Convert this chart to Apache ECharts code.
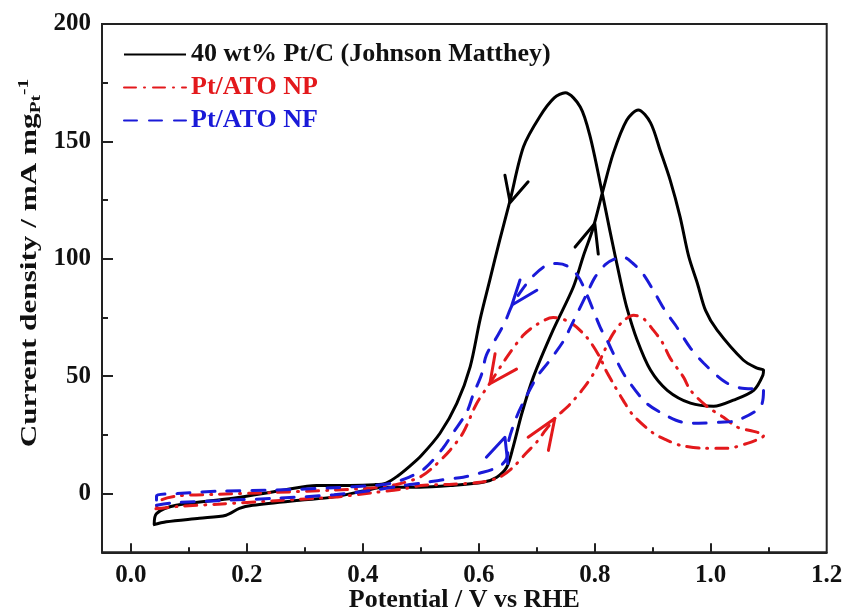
<!DOCTYPE html>
<html><head><meta charset="utf-8">
<script src="https://cdn.jsdelivr.net/npm/echarts@6/dist/echarts.min.js"></script>
<style>html,body{margin:0;padding:0;background:#fff}#c{width:844px;height:611px}</style>
</head><body><div id="c"></div>
<script>
// ---- data (Potential V vs RHE, current density mA/mg_Pt) ----
const ptcForward = [[0.038,-13.3],[0.061,-12.0],[0.118,-10.5],[0.164,-9.2],[0.187,-6.3],[0.21,-5.0],[0.291,-2.8],[0.348,-1.5],[0.406,1.4],[0.435,2.7],[0.498,2.7],[0.555,3.5],[0.607,4.8],[0.631,7.0],[0.648,11.2],[0.659,19.7],[0.674,34.0],[0.694,49.6],[0.728,69.6],[0.763,88.0],[0.780,101],[0.797,113],[0.814,129],[0.832,145],[0.855,159],[0.875,163.4],[0.896,158],[0.913,146],[0.930,133.5],[0.947,118],[0.962,101],[0.977,89.5],[0.991,78],[1.011,69.6],[1.056,56.9],[1.080,53.4],[1.091,52.6]];
const ptcBackward = [[1.090,50.5],[1.074,44],[1.039,39.8],[1.005,37.2],[0.965,38.5],[0.925,44],[0.896,52.6],[0.873,65.4],[0.855,79.4],[0.844,91],[0.826,112],[0.812,129],[0.792,152],[0.775,164.7],[0.749,170.7],[0.730,168.5],[0.705,160.5],[0.677,147.7],[0.654,125],[0.636,108],[0.619,91],[0.602,74],[0.585,54],[0.562,38.4],[0.533,25.7],[0.500,16],[0.480,11.5],[0.460,7.5],[0.440,4.5],[0.420,3.8],[0.377,3.5],[0.320,3.5],[0.262,1.4],[0.176,-2],[0.078,-5],[0.044,-8.5],[0.040,-13.3]];
const npForward = [[0.043,-6.5],[0.08,-5.5],[0.15,-4.5],[0.25,-3],[0.35,-1.5],[0.42,0.5],[0.47,2],[0.50,3.5],[0.555,4],[0.602,4.8],[0.636,7],[0.659,11.2],[0.683,17.6],[0.70,22],[0.715,27],[0.731,32],[0.757,38],[0.781,45],[0.800,52],[0.815,60],[0.830,67.5],[0.847,73],[0.867,76],[0.884,74.5],[0.901,69.6],[0.916,64.6],[0.930,57.7],[0.953,49.6],[0.965,44],[0.993,37.2],[1.022,32.5],[1.046,28.3],[1.074,26.5],[1.092,25]];
const npBackward = [[1.089,24],[1.063,21.4],[1.028,19.3],[0.988,19.3],[0.947,20.6],[0.925,22.7],[0.901,25.7],[0.866,33.4],[0.849,39.7],[0.832,46.8],[0.818,53],[0.809,58],[0.786,66.6],[0.757,73],[0.728,75],[0.70,72],[0.677,67.5],[0.648,58],[0.619,47],[0.596,38.3],[0.573,26],[0.55,18.4],[0.521,11.2],[0.498,7],[0.46,4],[0.42,2.5],[0.35,1.5],[0.25,0.5],[0.15,-0.3],[0.08,-1],[0.05,-3],[0.043,-6.5]];
const nfForward = [[0.044,-5],[0.07,-4],[0.15,-3],[0.25,-2],[0.35,-0.5],[0.42,1.5],[0.47,3.5],[0.51,4.8],[0.533,5.7],[0.573,7],[0.60,8.6],[0.635,11.5],[0.648,15],[0.652,23],[0.665,32.6],[0.677,39],[0.70,49.6],[0.72,56],[0.746,65],[0.761,72.4],[0.786,85],[0.80,92],[0.818,97.5],[0.835,100],[0.850,100.6],[0.866,98],[0.882,94],[0.90,87],[0.921,78],[0.939,71.8],[0.965,62],[0.988,55.5],[1.025,47.5],[1.051,45],[1.091,44]];
const nfBackward = [[1.086,37],[1.046,31.2],[1.016,30.4],[0.979,30],[0.951,30.4],[0.913,34.6],[0.887,39],[0.855,49],[0.84,55.5],[0.821,65.4],[0.809,71],[0.786,85],[0.77,93],[0.752,97],[0.735,98],[0.715,97],[0.695,93],[0.675,87],[0.657,80],[0.645,73],[0.633,67.5],[0.613,59],[0.605,51],[0.59,42],[0.579,34.6],[0.556,26],[0.538,19.3],[0.507,10.8],[0.48,7],[0.45,4.5],[0.42,3.5],[0.35,2.5],[0.25,1.5],[0.15,1],[0.08,0],[0.044,-1],[0.044,-5]];
// scan-direction arrows [wing, tip, wing]
const ptcArrowBack = [[0.645,135.6],[0.654,124],[0.685,132.8]];
const ptcArrowFwd = [[0.766,105],[0.800,115],[0.806,102]];
const npArrowBack = [[0.628,59.6],[0.619,46.8],[0.665,53]];
const npArrowFwd = [[0.685,24],[0.731,32],[0.72,18.4]];
const nfArrowBack = [[0.671,91],[0.657,80.3],[0.70,86.6]];
const nfArrowFwd = [[0.613,15.5],[0.645,24],[0.65,12.8]];
const seriesNames = ['40 wt% Pt/C (Johnson Matthey)','Pt/ATO NP','Pt/ATO NF'];
const xMajor = [0,0.2,0.4,0.6,0.8,1.0];
const xMinor = [0.1,0.3,0.5,0.7,0.9,1.1];
const xLabels = [0,0.2,0.4,0.6,0.8,1.0,1.2];
const yMajor = [0,50,100,150,200];
const yMinor = [25,75,125,175];
const yLabels = [0,50,100,150,200];

const FF = "'Liberation Serif','Times New Roman',serif";
const BLACK = '#000000', RED = '#e3191c', BLUE = '#1a1ad8';
const AX = '#222';
const X_MIN = -0.05, X_MAX = 1.2, Y_MIN = -25, Y_MAX = 200;

const chart = echarts.init(document.getElementById('c'), null, {renderer:'canvas'});
const lbl = {fontFamily:FF, fontWeight:'bold', fontSize:25, color:'#111'};
function arrow(data, color){
  return {type:'line', data, symbol:'none', silent:true, lineStyle:{color, width:3, cap:'round', join:'round'}, z:4};
}
function tickAxis(kind, pos, values, len){
  return {type:'value', min: kind==='x'?X_MIN:Y_MIN, max: kind==='x'?X_MAX:Y_MAX, position:pos, offset:0,
    axisLine:{show:false, onZero:false}, axisLabel:{show:false}, splitLine:{show:false},
    axisTick:{show:true, inside:true, length:len, customValues:values, lineStyle:{color:AX, width:2}}};
}
chart.setOption({
  animation:false,
  backgroundColor:'#fff',
  grid:{left:102, top:24, width:724.7, height:528.3, outerBoundsMode:'none', containLabel:false,
        show:true, borderColor:AX, borderWidth:2, backgroundColor:'transparent'},
  legend:{
    orient:'vertical', left:123, top:41, padding:0, itemGap:6, itemWidth:62, itemHeight:14,
    selectedMode:false,
    itemStyle:{opacity:0},
    textStyle:{fontFamily:FF, fontWeight:'bold', fontSize:26, lineHeight:27},
    data:[
      {name:seriesNames[0], textStyle:{color:'#111'}},
      {name:seriesNames[1], textStyle:{color:RED}},
      {name:seriesNames[2], textStyle:{color:BLUE}}
    ]
  },
  xAxis:[{
    type:'value', min:X_MIN, max:X_MAX,
    name:'Potential / V vs RHE', nameLocation:'middle', nameGap:35, nameMoveOverlap:false,
    nameTextStyle:{fontFamily:FF, fontWeight:'bold', fontSize:26, color:'#111'},
    axisLine:{show:true, onZero:false, lineStyle:{color:AX, width:2}},
    axisTick:{show:false},
    axisLabel:Object.assign({customValues:xLabels, margin:11, formatter:v=>v.toFixed(1)}, lbl),
    splitLine:{show:false}
  }, tickAxis('x','bottom',xMajor,9), tickAxis('x','bottom',xMinor,5)],
  yAxis:[{
    type:'value', min:Y_MIN, max:Y_MAX,
    axisLine:{show:true, onZero:false, lineStyle:{color:AX, width:2}},
    axisTick:{show:false},
    axisLabel:Object.assign({customValues:yLabels, margin:11}, lbl),
    splitLine:{show:false}
  }, tickAxis('y','left',yMajor,11), tickAxis('y','left',yMinor,6)],
  graphic:[{
    type:'text', x:30, y:263, rotation:Math.PI/2, scaleX:1.3,
    style:{
      text:'{m|Current density / mA mg}{sub|Pt}{sup|-1}',
      align:'center', verticalAlign:'middle', fill:'#111',
      rich:{
        m:{fontFamily:FF, fontWeight:'bold', fontSize:24, lineHeight:27, fill:'#111'},
        sub:{fontFamily:FF, fontWeight:'bold', fontSize:15, lineHeight:15, verticalAlign:'bottom', fill:'#111'},
        sup:{fontFamily:FF, fontWeight:'bold', fontSize:15, lineHeight:15, verticalAlign:'top', fill:'#111'}
      }
    }
  }],
  series:[
    {name:seriesNames[0], type:'line', data:ptcForward.concat(ptcBackward), symbol:'none', smooth:0.3, silent:true,
     lineStyle:{color:BLACK, width:3}, itemStyle:{color:BLACK}, z:3},
    {name:seriesNames[1], type:'line', data:npForward.concat(npBackward), symbol:'none', smooth:0.3, silent:true,
     lineStyle:{color:RED, width:3, type:[12,8,1,8], cap:'round'}, itemStyle:{color:RED}, z:3},
    {name:seriesNames[2], type:'line', data:nfForward.concat(nfBackward), symbol:'none', smooth:0.3, silent:true,
     lineStyle:{color:BLUE, width:3, type:[13,12], cap:'round'}, itemStyle:{color:BLUE}, z:3},
    arrow(ptcArrowBack, BLACK), arrow(ptcArrowFwd, BLACK),
    arrow(npArrowBack, RED), arrow(npArrowFwd, RED),
    arrow(nfArrowBack, BLUE), arrow(nfArrowFwd, BLUE)
  ]
});
</script></body></html>
